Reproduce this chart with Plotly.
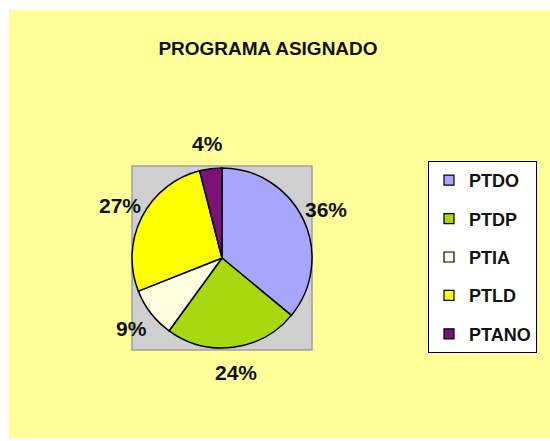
import math
import plotly.graph_objects as go

categories = ["PTDO", "PTDP", "PTIA", "PTLD", "PTANO"]
values = [36, 24, 9, 27, 4]
colors = ["#A6A6FF", "#A8D810", "#FFFFE0", "#FFFF00", "#7B1275"]

W, H = 550, 441
cx, cy, r = 222, 258, 90
label_r = 115

fig = go.Figure()
fig.add_trace(go.Pie(
    labels=categories, values=values, sort=False, direction="clockwise", rotation=0,
    marker=dict(colors=colors, line=dict(color="black", width=1.5)),
    textinfo="none",
    domain=dict(x=[(cx - r) / W, (cx + r) / W], y=[(H - cy - r) / H, (H - cy + r) / H]),
    showlegend=False, hoverinfo="label+percent",
))
for cat, col in zip(categories, colors):
    fig.add_trace(go.Scatter(
        x=[None], y=[None], mode="markers", name="<b>" + cat + "</b>", legendgroup=cat,
        marker=dict(symbol="square", size=10, color=col, line=dict(color="black", width=1.2)),
    ))

# percentage labels placed at the mid-angle of each slice
total = sum(values)
annotations = []
cum = 0
for v in values:
    mid = (cum + v / 2) / total * 2 * math.pi
    cum += v
    annotations.append(dict(
        xref="paper", yref="paper",
        x=(cx + label_r * math.sin(mid)) / W, y=(H - cy + label_r * math.cos(mid)) / H,
        xanchor="center", yanchor="middle", showarrow=False,
        text="<b>%d%%</b>" % round(v / total * 100),
        font=dict(family="Liberation Sans", size=21, color="#111111"),
    ))

fig.update_layout(
    width=W, height=H,
    margin=dict(l=0, r=0, t=0, b=0),
    paper_bgcolor="white", plot_bgcolor="rgba(0,0,0,0)",
    xaxis=dict(visible=False), yaxis=dict(visible=False),
    title=dict(text="<b>PROGRAMA ASIGNADO</b>", x=268 / W, xanchor="center", y=1 - 48 / H, yanchor="middle",
               font=dict(family="Liberation Sans", size=19, color="#111111")),
    legend=dict(x=428 / W, xanchor="left", y=1 - 161 / H, yanchor="top",
                bgcolor="white", bordercolor="black", borderwidth=1,
                tracegroupgap=12, traceorder="grouped",
                font=dict(family="Liberation Sans", size=18, color="#111111")),
    annotations=annotations,
    shapes=[
        dict(type="rect", xref="paper", yref="paper", x0=9 / W, x1=1, y0=1 - 438 / H, y1=1 - 10 / H,
             fillcolor="#FFFF99", line=dict(width=0), layer="below"),
        dict(type="rect", xref="paper", yref="paper", x0=132 / W, x1=312 / W, y0=1 - 350 / H, y1=1 - 166 / H,
             fillcolor="#CFCFCF", line=dict(color="#A0A0A0", width=1.5), layer="below"),
    ],
)
fig.write_html("out.html", config={"displayModeBar": False},
               post_script="document.body.style.margin='0';")
